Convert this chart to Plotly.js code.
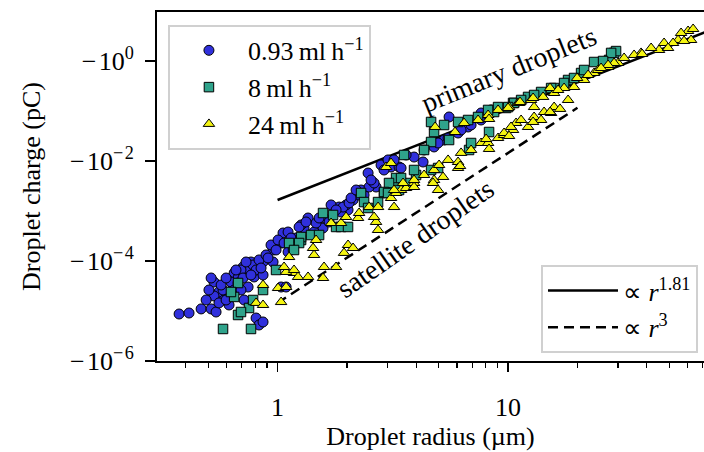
<!DOCTYPE html>
<html><head><meta charset="utf-8">
<script src="https://cdn.plot.ly/plotly-3.0.1.min.js"></script>
<style>html,body{margin:0;padding:0;background:#fff}#chart{width:704px;height:452px}</style>
</head><body><div id="chart"></div>
<script>
// Droplet radius (µm) and droplet charge (pC, negative)
const radius093 = [0.374,0.413,0.466,0.515,0.541,0.530,0.557,0.586,0.616,0.648,0.674,0.708,0.752,0.791,0.807,0.831,0.865,0.865,0.956,0.956,1.036,1.056,0.745,0.641,0.530,0.580,0.628,0.694,0.767,0.783,0.831,0.674,0.708,0.807,0.865,0.616,0.557,0.648,0.937,0.891,1.005,2.470,2.675,2.812,3.107,3.366,2.373,2.022,1.849,1.575,1.440,1.303,1.111,1.067,1.111,1.203,1.036,1.089,1.265,1.356,1.707,1.982,2.126,2.258,2.303,2.495,2.623,1.886,1.591,1.469,5.547,3.434,3.015,4.278,3.910,4.775,5.277,6.069,6.707,7.636,8.439,7.636,3.610,3.202,4.321,4.970,5.492,6.254,6.911,8.190,2.897,1.240,1.673,1.924,2.043,
  0.490,0.504,0.569,0.598,0.660,0.730,0.767,0.848,0.909,0.985,1.144,1.329,1.514,1.794,2.084,2.545,2.191,0.694,0.598,0.716,0.515];
const charge093 = [-8.71e-6,-9.12e-6,-1.10e-5,-1.10e-5,-9.55e-6,-3.80e-5,-2.40e-5,-1.66e-5,-1.91e-5,-5.75e-5,-4.57e-5,-7.59e-5,-6.61e-5,-4.79e-5,-7.24e-6,-5.25e-6,-6.03e-6,-9.55e-5,-9.55e-5,-1.66e-4,-2.29e-4,-3.63e-4,-3.02e-5,-3.31e-5,-2.00e-5,-2.63e-5,-3.80e-5,-6.61e-5,-9.55e-5,-8.32e-5,-1.05e-4,-3.63e-5,-4.57e-5,-6.61e-5,-5.25e-5,-1.32e-5,-1.45e-5,-2.63e-5,-2.09e-4,-1.32e-4,-2.63e-4,-5.75e-3,-3.02e-3,-8.32e-3,-7.59e-3,-7.59e-3,-2.09e-3,-1.05e-3,-1.20e-3,-4.57e-4,-3.80e-4,-4.57e-4,-3.80e-4,-2.29e-4,-1.51e-4,-2.88e-4,-3.02e-5,-3.02e-5,-5.25e-4,-7.24e-4,-1.32e-3,-1.32e-3,-1.66e-3,-2.09e-3,-2.63e-3,-3.02e-3,-3.63e-3,-9.55e-4,-7.24e-4,-5.75e-4,-0.0759,-7.24e-3,-0.0105,-9.55e-3,-0.0120,-0.0191,-0.0263,-0.0363,-0.0479,-0.0661,-0.105,-0.0912,-0.0132,-0.0105,-0.0166,-0.0229,-0.0288,-0.0417,-0.0525,-0.0832,-6.61e-3,-4.79e-4,-6.03e-4,-1.20e-3,-1.45e-3,
  -1.66e-5,-2.63e-5,-3.31e-5,-4.57e-5,-6.61e-5,-9.55e-5,-5.25e-5,-7.24e-5,-1.15e-4,-1.66e-4,-2.88e-4,-6.03e-4,-7.24e-4,-1.05e-3,-1.82e-3,-4.17e-3,-2.63e-3,-2.63e-5,-1.66e-5,-1.66e-5,-4.57e-5];

const radius8 = [0.580,0.767,0.674,0.648,0.628,0.752,0.674,0.694,0.783,1.167,1.122,0.865,0.985,1.265,1.397,1.514,1.741,1.794,1.886,2.022,1.575,1.265,1.240,1.179,2.303,2.373,2.470,2.729,2.897,3.202,3.267,3.683,3.989,4.634,4.775,5.547,4.634,3.538,4.321,6.774,3.045,2.897,3.366,3.434,8.696,9.802,10.51,3.910,28.84,27.43,23.61,20.74,18.21,15.84,13.91,12.21,10.62,10.0,29.41,27.99,25.83,3.015,4.634,4.970,5.277,6.069,6.707,7.410,8.190,9.049,11.39,12.97,15.37,17.50,19.33,21.37,6.911,8.27];
const charge8 = [-4.37e-6,-4.37e-6,-3.63e-5,-1.91e-5,-2.40e-5,-1.15e-5,-8.32e-6,-9.55e-6,-1.66e-5,-1.91e-4,-2.29e-4,-2.63e-5,-6.61e-5,-2.63e-4,-3.31e-4,-3.31e-4,-8.32e-4,-4.79e-4,-4.79e-4,-4.79e-4,-9.12e-4,-3.02e-4,-2.29e-4,-1.66e-4,-2.29e-3,-1.51e-3,-1.15e-3,-1.51e-3,-2.29e-3,-3.31e-3,-4.57e-3,-3.63e-3,-5.25e-3,-0.0603,-0.0380,-0.0263,-0.0240,-0.0132,-0.0166,-0.0166,-3.63e-3,-2.40e-3,-2.63e-3,-4.57e-3,-0.0955,-0.115,-0.145,-6.61e-3,-1.45,-1.05,-0.955,-0.575,-0.417,-0.288,-0.240,-0.191,-0.145,-0.120,-1.58,-1.45,-1.0,-2.29e-3,-6.61e-3,-7.24e-3,-0.0525,-0.0603,-0.0661,-0.0759,-0.105,-0.120,-0.166,-0.209,-0.288,-0.363,-0.457,-0.661,-0.0229,-0.0380];

const radius24 = [0.865,0.807,0.865,1.005,1.089,1.122,1.179,1.089,1.036,1.067,1.179,1.227,1.356,1.575,1.591,1.794,1.943,2.022,2.126,1.440,1.426,1.469,1.707,1.886,1.982,2.235,2.258,2.495,2.729,3.107,3.267,2.675,2.729,2.623,2.956,3.107,3.434,3.610,3.910,6.445,7.410,8.190,9.049,10.10,11.05,3.202,3.503,3.910,4.321,4.775,5.020,5.492,6.069,6.254,6.911,7.636,8.190,9.049,9.608,10.51,10.83,4.775,4.970,3.202,3.910,6.069,30.01,27.16,23.61,21.37,19.33,17.50,15.84,14.19,12.58,11.16,10.0,18.21,15.84,14.33,12.97,11.39,10.30,9.608,12.21,13.91,12.97,15.37,60.38,62.22,56.30,54.64,51.97,47.51,45.19,41.74,37.76,35.22,31.87,28.84,27.16,58.01,49.44,4.824,5.888,8.27,11.27,12.84,15.21,19.93,24.58,38.14,8.03,8.27,10.10,12.84,15.21,16.81,6.19,5.224,4.727,25.32,22.24,16.48,63.5];
const charge24 = [-3.31e-5,-1.45e-5,-1.32e-5,-2.88e-5,-3.02e-5,-1.20e-4,-5.75e-5,-6.03e-5,-1.51e-5,-7.59e-5,-6.61e-5,-4.79e-5,-4.79e-5,-4.57e-5,-7.59e-5,-7.59e-5,-1.45e-4,-2.09e-4,-1.82e-4,-1.32e-4,-1.82e-4,-2.63e-4,-5.75e-4,-5.75e-4,-7.59e-4,-7.24e-4,-9.12e-4,-1.20e-3,-1.20e-3,-1.82e-3,-2.29e-3,-6.03e-4,-4.17e-4,-7.59e-4,-7.59e-3,-9.12e-3,-2.63e-3,-2.88e-3,-3.63e-3,-0.0575,-0.0661,-0.0832,-0.105,-0.120,-0.145,-2.63e-3,-3.63e-3,-4.17e-3,-5.25e-3,-6.61e-3,-8.32e-3,-0.0105,-9.55e-3,-0.0145,-0.0166,-0.0229,-0.0229,-0.0288,-0.0331,-0.0417,-0.0575,-4.17e-3,-2.63e-3,-1.20e-3,-3.02e-3,-7.24e-3,-0.912,-0.759,-0.575,-0.417,-0.302,-0.288,-0.229,-0.191,-0.166,-0.145,-0.115,-0.166,-0.120,-0.0955,-0.0759,-0.0661,-0.0479,-0.0363,-0.0479,-0.0661,-0.120,-0.0912,-3.98,-2.63,-3.63,-2.63,-2.29,-2.29,-1.66,-1.82,-1.45,-1.32,-1.15,-0.912,-0.832,-2.51,-1.82,-0.0479,-0.0380,-0.0692,-0.151,-0.182,-0.288,-0.457,-0.661,-1.38,-0.0275,-0.0174,-0.0316,-0.0603,-0.0955,-0.110,-7.94e-3,-4.79e-3,-3.63e-3,-0.724,-0.525,-0.263,-4.37];

// Guide lines (endpoints)
const primaryLineRadius = [1, 80];
const primaryLineCharge = [-1.66e-3, -4.62];
const satelliteLineRadius = [1, 20];
const satelliteLineCharge = [-1.45e-5, -0.116];

const seriesNames = ['0.93\u2009ml\u2009h<sup>\u22121</sup>', '8\u2009ml\u2009h<sup>\u22121</sup>', '24\u2009ml\u2009h<sup>\u22121</sup>'];
const lineNames = ['\u221d <i>r</i><sup>1.81</sup>', '\u221d <i>r</i><sup>3</sup>'];
const xTickVals = [1, 10];
const xTickText = ['1', '10'];
const xMinorVals = [0.4,0.5,0.6,0.7,0.8,0.9,2,3,4,5,6,7,8,9,20,30,40,50,60,70];
const yTickVals = [1e-6, 1e-4, 1e-2, 1];
const yTickText = ['\u2212\u200a10<sup>\u2212\u200a6</sup>', '\u2212\u200a10<sup>\u2212\u200a4</sup>', '\u2212\u200a10<sup>\u2212\u200a2</sup>', '\u2212\u200a10<sup>0</sup>'];

const mag = a => a.map(v => -v);
const FONT = '"Liberation Serif", serif';

const traces = [
  {x: primaryLineRadius, y: mag(primaryLineCharge), mode: 'lines', name: lineNames[0], legend: 'legend2',
   line: {color: '#000', width: 2.5}},
  {x: satelliteLineRadius, y: mag(satelliteLineCharge), mode: 'lines', name: lineNames[1], legend: 'legend2',
   line: {color: '#000', width: 2.5, dash: '10px,6px'}},
  {x: radius093, y: mag(charge093), mode: 'markers', name: seriesNames[0], legendgroup: 'a',
   marker: {symbol: 'circle', size: 10, color: '#3030dc', line: {color: '#000', width: 1}}},
  {x: radius8, y: mag(charge8), mode: 'markers', name: seriesNames[1], legendgroup: 'b',
   marker: {symbol: 'square', size: 9.5, color: '#2fa38b', line: {color: '#000', width: 1}}},
  {x: radius24, y: mag(charge24), mode: 'markers', name: seriesNames[2], legendgroup: 'c',
   marker: {symbol: 'triangle-up', size: 10, color: '#f4f412', line: {color: '#000', width: 1}}}
];

const layout = {
  width: 704, height: 452,
  margin: {l: 157, r: 0, t: 12, b: 91, pad: 0},
  paper_bgcolor: '#fff', plot_bgcolor: '#fff',
  font: {family: FONT, size: 26, color: '#000'},
  showlegend: true,
  xaxis: {type: 'log', range: [-0.523, 1.85], showgrid: false, zeroline: false,
    showline: true, linecolor: '#000', linewidth: 2, mirror: true,
    ticks: 'outside', ticklen: 9, tickwidth: 1.5, tickcolor: '#000', ticklabelstandoff: 13,
    tickmode: 'array', tickvals: xTickVals, ticktext: xTickText, tickfont: {size: 26, family: FONT},
    minor: {ticks: 'outside', ticklen: 5, tickwidth: 1.2, tickcolor: '#000', tickmode: 'array', tickvals: xMinorVals, showgrid: false},
    title: {text: 'Droplet radius (\u00b5m)', font: {size: 26, family: FONT}, standoff: 6}},
  yaxis: {type: 'log', range: [-6, 0.98], showgrid: false, zeroline: false,
    showline: true, linecolor: '#000', linewidth: 2, mirror: false,
    ticks: 'outside', ticklen: 10, tickwidth: 1.5, tickcolor: '#000', ticklabelstandoff: 6,
    tickmode: 'array', tickvals: yTickVals, ticktext: yTickText, tickfont: {size: 26, family: FONT},
    title: {text: 'Droplet charge (pC)', font: {size: 26, family: FONT}, standoff: 22}},
  legend: {x: 0.02, y: 0.963, xanchor: 'left', yanchor: 'top', bgcolor: '#fff',
    bordercolor: '#d0d0d0', borderwidth: 2, font: {size: 26, family: FONT}, tracegroupgap: 0,
    itemwidth: 68, indentation: 0},
  legend2: {x: 0.702, y: 0.275, xanchor: 'left', yanchor: 'top', bgcolor: '#fff',
    bordercolor: '#d0d0d0', borderwidth: 2, font: {size: 26, family: FONT}, itemwidth: 70},
  annotations: [
    {text: 'primary droplets', xref: 'paper', yref: 'paper', x: 0.643, y: 0.835, xanchor: 'center', yanchor: 'middle',
     showarrow: false, textangle: -22, font: {size: 28, family: FONT}},
    {text: 'satellite droplets', xref: 'paper', yref: 'paper', x: 0.472, y: 0.352, xanchor: 'center', yanchor: 'middle',
     showarrow: false, textangle: -35, font: {size: 28, family: FONT}}
  ]
};

Plotly.newPlot('chart', traces, layout, {staticPlot: true, displayModeBar: false});
</script>
</body></html>
